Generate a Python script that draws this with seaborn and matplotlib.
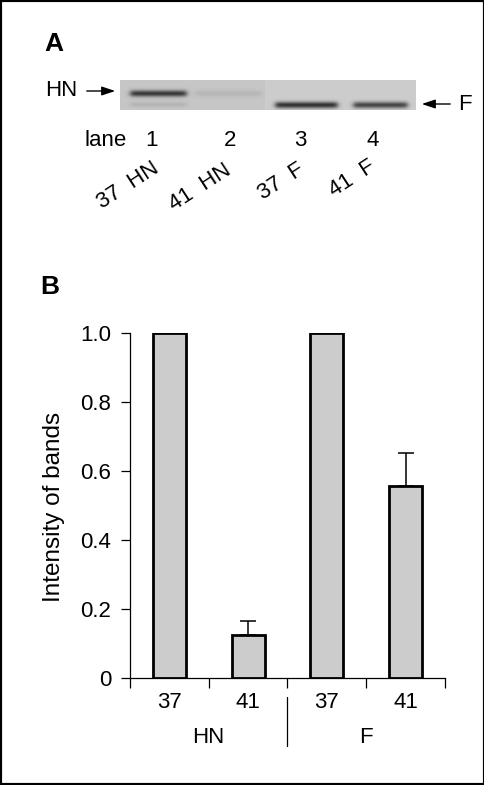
import numpy as np
import pandas as pd
import matplotlib
matplotlib.use("Agg")
import matplotlib.pyplot as plt
import matplotlib.transforms as mtransforms
from matplotlib.patches import Rectangle, FancyArrowPatch
import seaborn as sns

# ---------------- data ----------------
proteins = ["HN", "HN", "F", "F"]
temperatures = ["37", "41", "37", "41"]
intensity = [1.0, 0.123, 1.0, 0.556]
error_up = [0.0, 0.041, 0.0, 0.095]
y_ticks = [0, 0.2, 0.4, 0.6, 0.8, 1.0]
y_tick_labels = ["0", "0.2", "0.4", "0.6", "0.8", "1.0"]
group_names = ["HN", "F"]
lane_numbers = ["1", "2", "3", "4"]
lane_labels = ["37  HN", "41  HN", "37  F", "41  F"]
band_darkness = [0.55, 0.06, 0.60, 0.52]   # gel band strength per lane

sns.set_theme(style="ticks")
plt.rcParams["font.family"] = ["Liberation Sans", "DejaVu Sans"]
plt.rcParams["axes.edgecolor"] = "black"
plt.rcParams["text.color"] = "black"
plt.rcParams["xtick.color"] = "black"
plt.rcParams["ytick.color"] = "black"

W, H = 485, 785
fig = plt.figure(figsize=(W / 100, H / 100), dpi=100)
fig.patch.set_facecolor("white")


def fx(x):
    return x / W


def fy(y):
    return 1 - y / H


FS = 16

# ---------------- panel A : gel ----------------
gel_ax = fig.add_axes([fx(120), fy(110), fx(416) - fx(120), 30 / H])
gel_ax.set_axis_off()
cols, rows = 296, 30
xx = np.arange(cols)[None, :]
yy = np.arange(rows)[:, None]
img = np.where(xx < 145, 0.775, 0.80) * np.ones((rows, cols))
lane_centers = [38, 108, 186, 260]
lane_half = [28, 33, 31, 27]
band_rows = [13, 13, 24.5, 24.5]
for c, hw, r, d in zip(lane_centers, lane_half, band_rows, band_darkness):
    prof = 0.5 * (np.tanh((xx - (c - hw)) / 3.0) - np.tanh((xx - (c + hw)) / 3.0))
    vert = np.exp(-0.5 * ((yy - r) / 2.3) ** 2)
    img = img - d * prof * vert
# faint lower band in lane 1
c, hw = lane_centers[0], lane_half[0]
prof = 0.5 * (np.tanh((xx - (c - hw)) / 3.0) - np.tanh((xx - (c + hw)) / 3.0))
img = img - 0.07 * prof * np.exp(-0.5 * ((yy - 24) / 1.8) ** 2)
gel_ax.imshow(img, cmap="gray", vmin=0, vmax=1, aspect="auto",
              interpolation="bilinear")

fig.text(fx(53.5), fy(44), "A", fontsize=19, fontweight="bold",
         ha="center", va="center")
fig.text(fx(61), fy(90.5), "HN", fontsize=FS, ha="center", va="center")
fig.text(fx(465), fy(104.5), "F", fontsize=FS, ha="center", va="center")
arrow_style = "-|>,head_length=0.9,head_width=0.3"
fig.add_artist(FancyArrowPatch((fx(84), fy(91)), (fx(118), fy(91)),
                               transform=fig.transFigure, arrowstyle=arrow_style,
                               mutation_scale=9, lw=1, color="black"))
fig.add_artist(FancyArrowPatch((fx(453), fy(104)), (fx(419), fy(104)),
                               transform=fig.transFigure, arrowstyle=arrow_style,
                               mutation_scale=9, lw=1, color="black"))

fig.text(fx(105.5), fy(140.5), "lane", fontsize=FS, ha="center", va="center")
lane_num_x = [152, 230, 300, 373]
for x, t in zip(lane_num_x, lane_numbers):
    fig.text(fx(x), fy(140.5), t, fontsize=FS, ha="center", va="center")
lane_lab_pos = [(128, 186), (200, 187), (281, 182), (352, 179)]
for (x, y), t in zip(lane_lab_pos, lane_labels):
    fig.text(fx(x), fy(y), t, fontsize=FS, ha="center", va="center",
             rotation=33)

# ---------------- panel B : bar chart ----------------
ax = fig.add_axes([fx(130), fy(677.7), fx(445) - fx(130), (677.7 - 332.7) / H])
df = pd.DataFrame({
    "cond": [f"{p} {t}" for p, t in zip(proteins, temperatures)],
    "intensity": intensity,
})
sns.barplot(data=df, x="cond", y="intensity", color="#cccccc", saturation=1,
            edgecolor="black", linewidth=2.0, width=0.42, errorbar=None, ax=ax)
idx = [i for i, e in enumerate(error_up) if e > 0]
ax.errorbar([i for i in idx], [intensity[i] for i in idx],
            yerr=[[0] * len(idx), [error_up[i] for i in idx]],
            fmt="none", ecolor="black", elinewidth=1.1, capsize=6, capthick=1.1,
            zorder=1)
ax.set_xlim(-0.5, 3.5)
ax.set_ylim(0, 1.0)
sns.despine(ax=ax)
for s in ("left", "bottom"):
    ax.spines[s].set_linewidth(0.9)
ax.set_yticks(y_ticks)
ax.set_yticklabels(y_tick_labels)
ax.tick_params(axis="y", length=6.5, width=0.9, labelsize=FS, pad=7)
ax.set_xticks([-0.5, 0.5, 1.5, 2.5, 3.5])
ax.set_xticklabels([])
ax.set_xticks(range(len(temperatures)), minor=True)
ax.set_xticklabels(temperatures, minor=True)
ax.tick_params(axis="x", which="major", length=7.2, width=0.9)
ax.tick_params(axis="x", which="minor", length=0, labelsize=FS, pad=10)
ax.set_xlabel("")
ax.set_ylabel("")
fig.text(fx(54), fy(507), "Intensity of bands", fontsize=17.5, rotation=90,
         ha="center", va="center")

trans = mtransforms.blended_transform_factory(ax.transData, ax.transAxes)
for gx, g in zip([0.5, 2.5], group_names):
    ax.text(gx, -0.172, g, transform=trans, fontsize=FS, ha="center",
            va="center")
ax.plot([1.5, 1.5], [-0.056, -0.198], transform=trans, clip_on=False,
        color="black", lw=0.9)

fig.text(fx(49.5), fy(286.5), "B", fontsize=19, fontweight="bold",
         ha="center", va="center")

# frame
fig.add_artist(Rectangle((0, 0), 1, 1, transform=fig.transFigure, fill=False,
                         lw=3, edgecolor="black"))

fig.savefig("out.png", dpi=100)
